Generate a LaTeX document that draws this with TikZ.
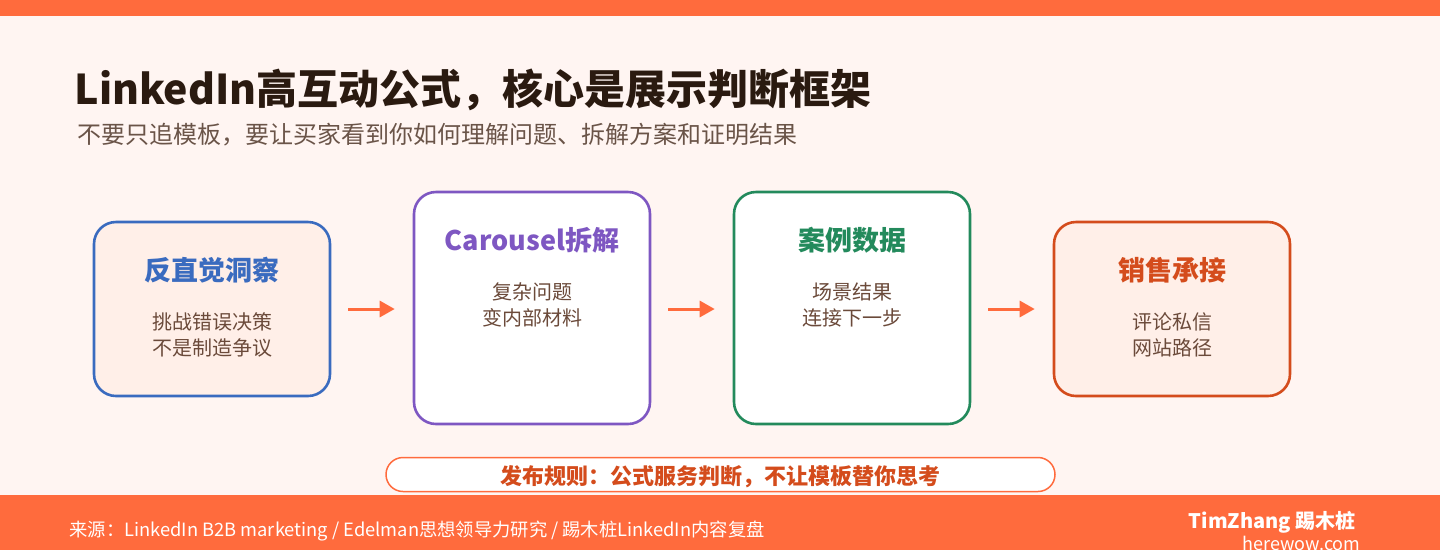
\documentclass[tikz,border=0pt]{standalone}
\usepackage{fontspec}
\setmainfont{Noto Sans CJK SC}
\usepackage{xcolor}
\usetikzlibrary{arrows.meta}
\definecolor{brand}{HTML}{FF6B3D}
\definecolor{paper}{HTML}{FFF5F2}
\definecolor{ink}{HTML}{2A1A10}
\definecolor{subink}{HTML}{6A5448}
\definecolor{bodyink}{HTML}{6B4A3A}
\definecolor{insight}{HTML}{3A6BBF}
\definecolor{carousel}{HTML}{7E57C2}
\definecolor{casedata}{HTML}{238A5C}
\definecolor{sales}{HTML}{D44C1C}
\definecolor{peach}{HTML}{FFEFE8}
\begin{document}
\begin{tikzpicture}[x=1pt,y=-1pt,
    stage/.style={draw,line width=2.6pt,rounded corners=22pt,minimum width=236pt},
    stagetitle/.style={font=\fontsize{27}{30}\selectfont\bfseries},
    stagetext/.style={font=\fontsize{20}{26}\selectfont,text=bodyink,align=center},
    flow/.style={draw=brand,line width=3pt,-{Triangle[length=15pt,width=16pt]},shorten <=17pt,shorten >=18pt}]
          \useasboundingbox (0,0) rectangle (1440,550);
          \fill[paper] (0,0) rectangle (1440,550);
          \fill[brand] (0,0) rectangle (1440,16);
          \fill[brand] (0,495) rectangle (1440,550);
          \node[anchor=base west,text=ink,font=\fontsize{41}{48}\selectfont\bfseries] (title) at (71,104) {LinkedIn高互动公式，核心是展示判断框架};
          \node[anchor=base west,text=subink,font=\fontsize{24}{28}\selectfont] (subtitle) at (74,143) {不要只追模板，要让买家看到你如何理解问题、拆解方案和证明结果};
          \node[stage,draw=insight,fill=peach,minimum height=174pt] (insight) at (212,309) {};
          \node[stage,draw=carousel,fill=white,minimum height=232pt] (carousel) at (532,308) {};
          \node[stage,draw=casedata,fill=white,minimum height=232pt] (casedata) at (852,308) {};
          \node[stage,draw=sales,fill=peach,minimum height=174pt] (sales) at (1172,309) {};
          \node[stagetitle,text=insight] (insighttitle) at (212,270) {反直觉洞察};
          \node[stagetext] (insighttext) at (212,335) {挑战错误决策\\不是制造争议};
          \node[stagetitle,text=carousel] (carouseltitle) at (532,240) {Carousel拆解};
          \node[stagetext] (carouseltext) at (532,305) {复杂问题\\变内部材料};
          \node[stagetitle,text=casedata] (casedatatitle) at (852,240) {案例数据};
          \node[stagetext] (casedatatext) at (852,305) {场景结果\\连接下一步};
          \node[stagetitle,text=sales] (salestitle) at (1172,270) {销售承接};
          \node[stagetext] (salestext) at (1172,335) {评论私信\\网站路径};
          \draw[flow] (insight.east) -- (insight.east -| carousel.west);
          \draw[flow] (carousel.east |- insight.east) -- (insight.east -| casedata.west);
          \draw[flow] (casedata.east |- insight.east) -- (sales.west);
          \node[draw=brand,line width=1.5pt,fill=white,rounded corners=17pt,minimum width=669pt,minimum height=34pt] (rule) at (720.5,474.5) {};
          \node[text=sales,font=\fontsize{22}{24}\selectfont\bfseries] (ruletext) at (720,477) {发布规则：公式服务判断，不让模板替你思考};
          \node[anchor=west,text=white,font=\fontsize{18.3}{20}\selectfont] (source) at (66,531) {来源：LinkedIn B2B marketing / Edelman思想领导力研究 / 踢木桩LinkedIn内容复盘};
          \node[anchor=east,text=white,font=\fontsize{20}{22}\selectfont\bfseries] (author) at (1359,522) {TimZhang 踢木桩};
          \node[anchor=east,text=white,font=\fontsize{18}{22}\selectfont] (site) at (1364,543) {herewow.com};
        \end{tikzpicture}
\end{document}
